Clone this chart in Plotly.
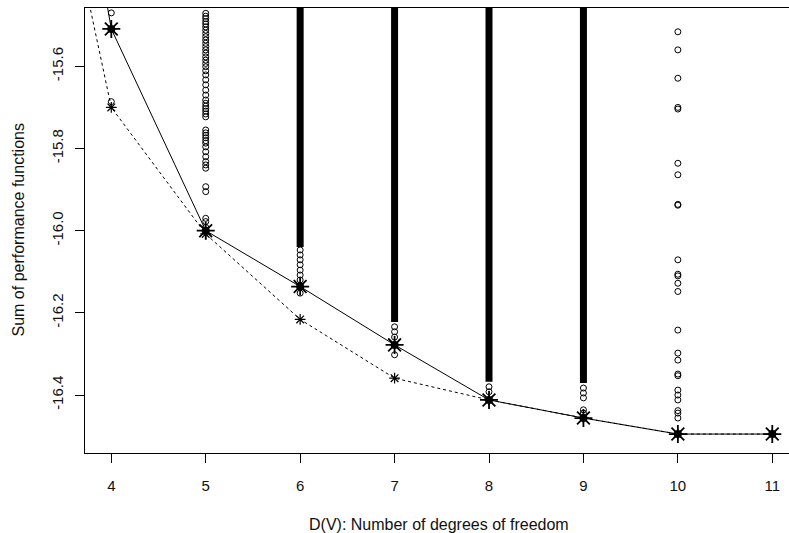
import plotly.graph_objects as go

# minimum and second curve (x=3 lies off the visible range)
dims = [3, 4, 5, 6, 7, 8, 9, 10, 11]
best_sum = [-14.20, -15.509, -16.000, -16.136, -16.278, -16.412, -16.456, -16.495, -16.495]
greedy_sum = [-14.62, -15.700, -16.008, -16.216, -16.359, -16.412, -16.456, -16.495, -16.495]

obs_d4 = [-15.470, -15.686]
obs_d5 = [-15.471, -15.478, -15.484, -15.491, -15.497, -15.504, -15.512, -15.520,
          -15.528, -15.536, -15.544, -15.552, -15.560, -15.568, -15.577, -15.585,
          -15.593, -15.601, -15.611, -15.621, -15.633, -15.645, -15.658, -15.670,
          -15.682, -15.690, -15.697, -15.703, -15.709, -15.716, -15.723, -15.755,
          -15.762, -15.768, -15.774, -15.781, -15.787, -15.796, -15.808, -15.820,
          -15.832, -15.840, -15.848, -15.893, -15.905, -15.970, -15.978, -15.992]
obs_d6 = [-16.047, -16.059, -16.071, -16.083, -16.096, -16.108, -16.120, -16.136, -16.152]
obs_d7 = [-16.234, -16.246, -16.259, -16.278, -16.302]
obs_d8 = [-16.380, -16.392, -16.412]
obs_d9 = [-16.383, -16.395, -16.407, -16.436, -16.444, -16.456]
obs_d10 = [-15.516, -15.560, -15.629, -15.700, -15.704, -15.836, -15.864, -15.936,
           -15.938, -16.071, -16.106, -16.110, -16.128, -16.148, -16.242, -16.298,
           -16.315, -16.349, -16.353, -16.388, -16.400, -16.412, -16.438, -16.444,
           -16.456, -16.495]

# columns so dense that the circles merge into a solid bar
band_dim = [6, 7, 8, 9]
band_low = [-16.040, -16.222, -16.368, -16.371]
band_high = [-15.440, -15.440, -15.440, -15.440]

fig = go.Figure()

obs = {4: obs_d4, 5: obs_d5, 6: obs_d6, 7: obs_d7, 8: obs_d8, 9: obs_d9, 10: obs_d10}
ox, oy = [], []
for d, vals in obs.items():
    ox += [d] * len(vals)
    oy += vals

bx, by = [], []
for d, lo, hi in zip(band_dim, band_low, band_high):
    bx += [d, d, None]
    by += [lo, hi, None]

fig.add_trace(go.Scatter(x=bx, y=by, mode='lines',
                         line=dict(color='black', width=7), hoverinfo='skip'))
fig.add_trace(go.Scatter(x=ox, y=oy, mode='markers',
                         marker=dict(symbol='circle-open', size=6, color='black',
                                     line=dict(width=1))))

fig.add_trace(go.Scatter(x=dims, y=greedy_sum, mode='lines+markers',
                         line=dict(color='black', width=1, dash='dot'),
                         marker=dict(symbol='asterisk-open', size=9, color='black',
                                     line=dict(width=1.2))))
fig.add_trace(go.Scatter(x=dims, y=best_sum, mode='lines',
                         line=dict(color='black', width=1)))
fig.add_trace(go.Scatter(x=dims, y=best_sum, mode='markers',
                         marker=dict(symbol='asterisk-open', size=15, color='black',
                                     line=dict(width=1.8))))
fig.add_trace(go.Scatter(x=dims, y=best_sum, mode='markers',
                         marker=dict(symbol='circle', size=8, color='black')))

font = dict(family='Liberation Sans, Arial, sans-serif', size=15, color='#111')
title_font = dict(family='Liberation Sans, Arial, sans-serif', size=16, color='#111')

fig.update_layout(
    width=789, height=533,
    margin=dict(l=85, r=0, t=8, b=80),
    paper_bgcolor='white', plot_bgcolor='white',
    showlegend=False,
    font=font,
)

fig.update_xaxes(
    range=[3.7215, 11.177],
    tickvals=[4, 5, 6, 7, 8, 9, 10, 11],
    showgrid=False, zeroline=False,
    showline=True, linecolor='black', linewidth=1.2,
    mirror=True,
    ticks='outside', ticklen=9, tickwidth=1, tickcolor='black',
    ticklabelstandoff=10,
)
fig.update_yaxes(
    range=[-16.5411, -15.4581],
    tickvals=[-16.4, -16.2, -16.0, -15.8, -15.6],
    ticktext=['-16.4', '-16.2', '-16.0', '-15.8', '-15.6'],
    tickangle=-90,
    showgrid=False, zeroline=False,
    showline=True, linecolor='black', linewidth=1.2,
    ticks='outside', ticklen=9, tickwidth=1, tickcolor='black',
    ticklabelstandoff=6,
)

fig.add_annotation(text='D(V): Number of degrees of freedom',
                   xref='paper', yref='paper', x=(439 - 85) / 704, y=-(524 - 453) / 445,
                   xanchor='center', yanchor='middle', showarrow=False, font=title_font)
fig.add_annotation(text='Sum of performance functions', textangle=-90,
                   xref='paper', yref='paper', x=-(85 - 18) / 704, y=0.5,
                   xanchor='center', yanchor='middle', showarrow=False, font=title_font)

fig.write_html("out.html", config={'displayModeBar': False},
               post_script="document.body.style.margin='0px';document.body.style.overflow='hidden';")
